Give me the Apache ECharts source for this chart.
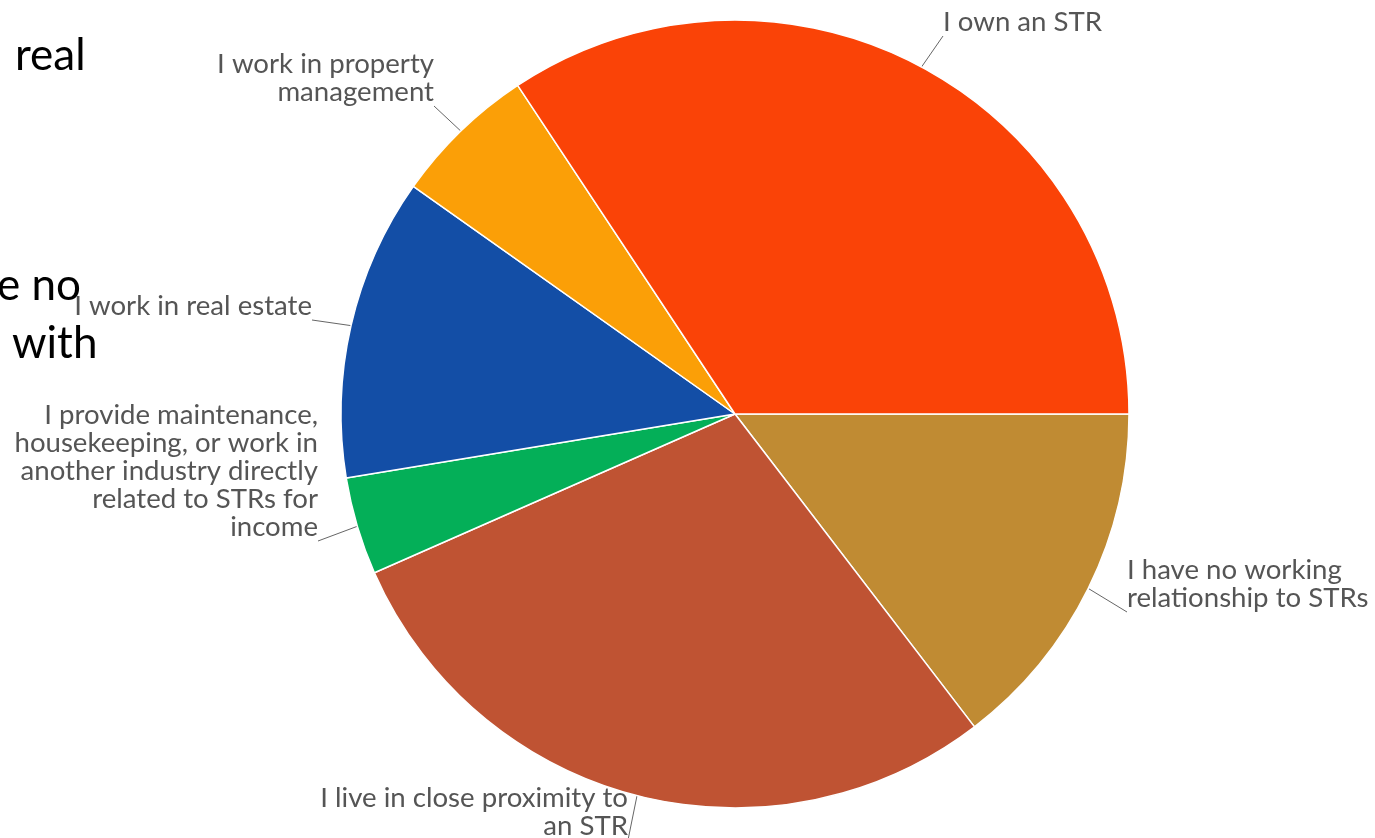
<!DOCTYPE html>
<html>
<head>
<meta charset="utf-8">
<script src="https://cdn.jsdelivr.net/npm/echarts@6/dist/echarts.min.js"></script>
<style>
html,body{margin:0;padding:0;background:#fff;}
#chart{width:1375px;height:838px;}
</style>
</head>
<body>
<div id="chart"></div>
<script>
// Categories in clockwise order starting at 3 o'clock
const categories = [
  'I have no working\nrelationship to STRs',
  'I live in close proximity to\nan STR',
  'I provide maintenance,\nhousekeeping, or work in\nanother industry directly\nrelated to STRs for\nincome',
  'I work in real estate',
  'I work in property\nmanagement',
  'I own an STR'
];
// Share of respondents (%)
const values = [14.6, 28.8, 4.0, 12.4, 5.9, 34.3];
const colors = ['#C08B33', '#BF5333', '#04AF58', '#134EA6', '#FB9F07', '#FA4307'];
// Background slide text fragments (cut off at the left edge)
const slideText = ['real', 'e no', 'with'];

// label placement: corner of label box where the leader line ends
const labelPlacement = [
  {x: 1127, y: 612, align: 'left'},
  {x: 628, y: 840, align: 'right'},
  {x: 318, y: 541, align: 'right'},
  {x: 312, y: 320, align: 'right'},
  {x: 434, y: 106, align: 'right'},
  {x: 943, y: 36, align: 'left'}
];

const chart = echarts.init(document.getElementById('chart'), null, {renderer: 'canvas'});
chart.setOption({
  backgroundColor: '#ffffff',
  animation: false,
  graphic: [
    {type: 'text', left: 15, top: 34, style: {text: slideText[0], font: '44px Lato', fill: '#000'}},
    {type: 'text', left: -3, top: 264, style: {text: slideText[1], font: '44px Lato', fill: '#000'}},
    {type: 'text', left: 12, top: 322, style: {text: slideText[2], font: '44px Lato', fill: '#000'}}
  ],
  series: [{
    type: 'pie',
    center: [735, 414],
    radius: 394,
    startAngle: 0,
    clockwise: true,
    avoidLabelOverlap: false,
    itemStyle: {borderColor: '#ffffff', borderWidth: 1.5},
    label: {
      show: true,
      position: 'outside',
      color: '#555555',
      fontFamily: 'Lato',
      fontSize: 27.6,
      lineHeight: 28,
      width: 460,
      overflow: 'none'
    },
    labelLine: {show: true, length: 10, length2: 10, lineStyle: {color: '#666666', width: 1}},
    labelLayout: function (params) {
      const p = labelPlacement[params.dataIndex];
      const pts = params.labelLinePoints;
      const res = {x: p.x, y: p.y, align: p.align, verticalAlign: 'bottom'};
      if (pts && pts[0]) {
        res.labelLinePoints = [pts[0], [p.x, p.y]];
      }
      return res;
    },
    data: categories.map(function (c, i) {
      return {name: c, value: values[i], itemStyle: {color: colors[i]}};
    })
  }]
});
</script>
</body>
</html>
